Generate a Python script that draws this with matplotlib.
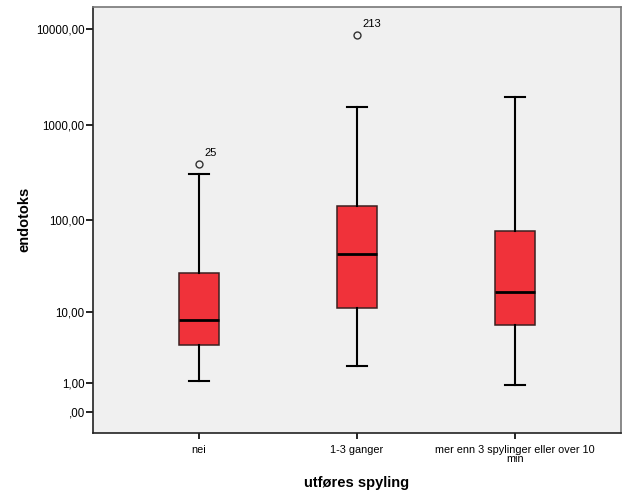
import numpy as np
import matplotlib
matplotlib.use("Agg")
import matplotlib.pyplot as plt
from matplotlib.ticker import FixedLocator, FixedFormatter, NullLocator

plt.rcParams["font.family"] = ["Liberation Sans", "DejaVu Sans"]

categories = ["nei", "1-3 ganger", "mer enn 3 spylinger eller over 10\nmin"]
whislo = [1.1, 2.0, 0.89]
q1 = [4.0, 11.0, 7.0]
med = [8.0, 43.0, 17.0]
q3 = [27.0, 141.0, 76.0]
whishi = [307.0, 1524.0, 1940.0]
fliers = [[389.0], [8700.0], []]
flier_ids = [["25"], ["213"], []]

ytick_vals = [0, 1, 10, 100, 1000, 10000]
ytick_labels = [",00", "1,00", "10,00", "100,00", "1000,00", "10000,00"]


def fwd(x):
    return np.log10(np.clip(np.asarray(x, dtype=float) + 1, 1e-9, None))


def inv(y):
    return 10 ** np.asarray(y, dtype=float) - 1


stats = []
for i in range(len(categories)):
    stats.append({
        "whislo": whislo[i], "q1": q1[i], "med": med[i], "q3": q3[i],
        "whishi": whishi[i], "fliers": fliers[i],
    })

fig = plt.figure(figsize=(6.29, 5.04), dpi=100)
ax = fig.add_axes([0.1479, 0.1415, 0.8394, 0.8446])
ax.set_facecolor("#f0f0f0")
ax.set_yscale("function", functions=(fwd, inv))

positions = np.arange(len(categories))
ax.bxp(
    stats, positions=positions, widths=0.25, patch_artist=True,
    boxprops=dict(facecolor="#f0323a", edgecolor="#3b2020", linewidth=1.1),
    medianprops=dict(color="black", linewidth=2.0),
    whiskerprops=dict(color="black", linewidth=1.5),
    capprops=dict(color="black", linewidth=1.5),
    capwidths=0.127,
    flierprops=dict(marker="o", markerfacecolor="none", markeredgecolor="#333333",
                    markersize=5, markeredgewidth=1.0),
)

for i, (vals, ids) in enumerate(zip(fliers, flier_ids)):
    for v, label in zip(vals, ids):
        ax.annotate(label, (positions[i], v), xytext=(5, 6), textcoords="offset pixels",
                    ha="left", va="bottom", fontsize=8)

ax.set_xlim(-0.671, 2.671)
ax.set_ylim(-0.397, 17000)
ax.yaxis.set_major_locator(FixedLocator(ytick_vals))
ax.yaxis.set_major_formatter(FixedFormatter(ytick_labels))
ax.yaxis.set_minor_locator(NullLocator())
ax.set_xticks(positions)
ax.set_xticklabels(categories, fontsize=7.8, linespacing=0.85)
ax.tick_params(axis="y", labelsize=8.3, length=5, width=1.2, pad=1)
ax.tick_params(axis="x", length=4, width=1.2, pad=5)

for side in ["left", "bottom"]:
    ax.spines[side].set_color("#222222")
    ax.spines[side].set_linewidth(1.2)
for side in ["top", "right"]:
    ax.spines[side].set_color("#777777")
    ax.spines[side].set_linewidth(1.2)

ax.set_ylabel("endotoks", fontsize=10.5, fontweight="bold")
ax.set_xlabel("utføres spyling", fontsize=10.5, fontweight="bold")
ax.yaxis.set_label_coords(-0.117, 0.5)
ax.xaxis.set_label_coords(0.5, -0.101)

fig.savefig("out.png", dpi=100)
